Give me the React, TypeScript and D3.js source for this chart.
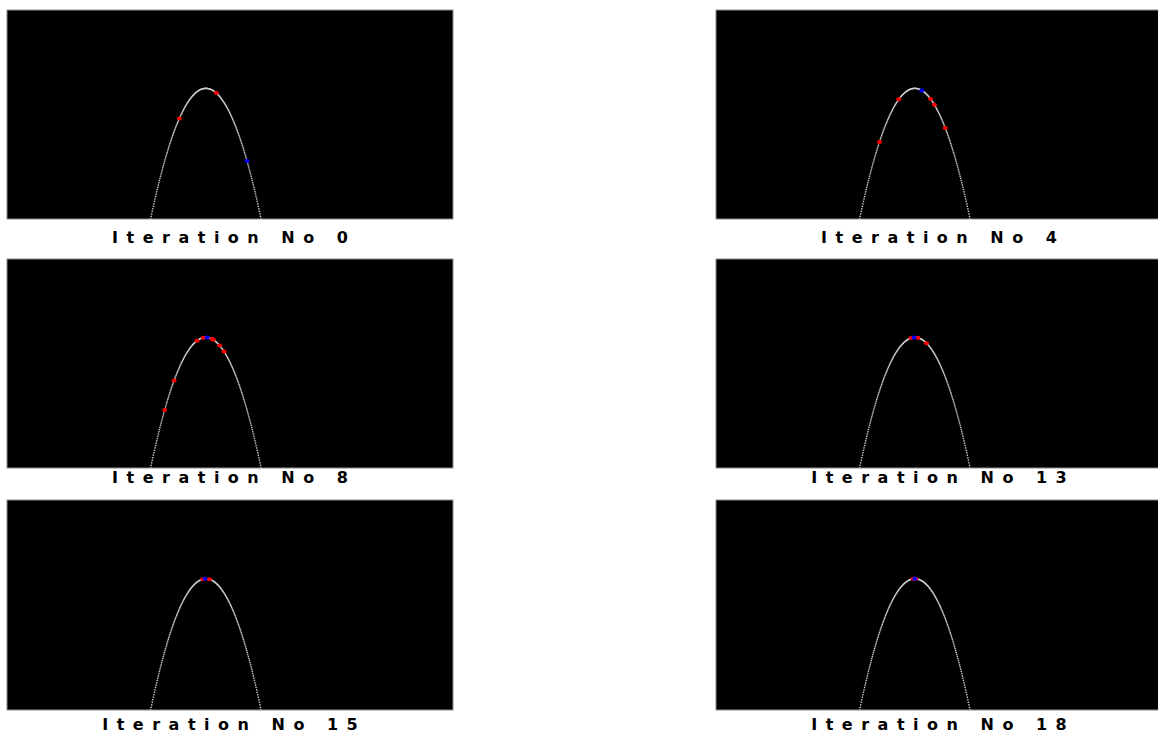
import React, { useEffect, useRef } from 'react';
import * as d3 from 'd3';

// iteration shown in each panel, row by row (left, right)
const iterationNos = [0, 4, 8, 13, 15, 18];

// particle positions (x), red markers
const particles0 = [-0.96, 0.38];
const particles4 = [-0.58, 0.57, 0.71, 1.1, -1.28];
const particles8 = [-0.09, -0.32, 0.23, 0.27, 0.5, 0.66, -1.15, -1.49];
const particles13 = [-0.14, 0.11, 0.42];
const particles15 = [-0.11, 0.13];
const particles18 = [-0.06, 0.04];
const swarms = [particles0, particles4, particles8, particles13, particles15, particles18];

// blue marker per panel
const bestX = [1.49, 0.25, 0.05, -0.03, -0.03, 0.0];

// objective being maximised, plotted as a dotted curve
const objective = (x: number) => -x * x;
const curveX = d3.range(-2.1, 2.1001, 0.02);

const W = 1158;
const H = 733;
const panelW = 446;
const colLeft = [7, 716];
const rowTop = [10, 259, 500];
const rowH = [209, 209, 210];
const titleY = [243, 483, 730];
const letterSpacing = 8.5;

const App = () => {
  const ref = useRef<SVGSVGElement>(null);

  useEffect(() => {
    const svg = d3.select(ref.current);
    svg.selectAll('*').remove();

    iterationNos.forEach((it, i) => {
      const row = Math.floor(i / 2);
      const col = i % 2;
      const h = rowH[row];
      const x = d3.scaleLinear().domain([-7.2, 8.95]).range([0, panelW]);
      const y = d3.scaleLinear().domain([-4, 2.4]).range([h, 0]);

      const g = svg.append('g').attr('transform', `translate(${colLeft[col]},${rowTop[row]})`);
      const clipId = `clip${i}`;
      g.append('clipPath').attr('id', clipId)
        .append('rect').attr('width', panelW).attr('height', h);

      g.append('rect')
        .attr('width', panelW).attr('height', h)
        .attr('fill', '#000')
        .attr('stroke', '#8c8c8c').attr('stroke-width', 1);

      const plot = g.append('g').attr('clip-path', `url(#${clipId})`);

      plot.selectAll('rect.dot')
        .data(curveX)
        .join('rect')
        .attr('class', 'dot')
        .attr('x', d => x(d) - 0.7)
        .attr('y', d => y(objective(d)) - 0.7)
        .attr('width', 1.4)
        .attr('height', 1.4)
        .attr('fill', '#d0d0d0');

      plot.selectAll('ellipse.p')
        .data(swarms[i])
        .join('ellipse')
        .attr('class', 'p')
        .attr('cx', d => x(d))
        .attr('cy', d => y(objective(d)))
        .attr('rx', 2.5).attr('ry', 2)
        .attr('fill', '#ff0000');

      plot.append('ellipse')
        .attr('cx', x(bestX[i]))
        .attr('cy', y(objective(bestX[i])))
        .attr('rx', 2.5).attr('ry', 2)
        .attr('fill', '#0000ff');

      svg.append('text')
        .attr('x', colLeft[col] + panelW / 2)
        .attr('dx', letterSpacing / 2)
        .attr('y', titleY[row])
        .attr('text-anchor', 'middle')
        .attr('font-family', '"DejaVu Sans", sans-serif')
        .attr('font-weight', 700)
        .attr('font-size', 16)
        .attr('letter-spacing', letterSpacing)
        .attr('fill', '#000')
        .text(`Iteration No ${it}`);
    });
  }, []);

  return (
    <svg
      ref={ref}
      width={W}
      height={H}
      style={{ position: 'absolute', left: 0, top: 0, background: '#fff' }}
    />
  );
};

export default App;
